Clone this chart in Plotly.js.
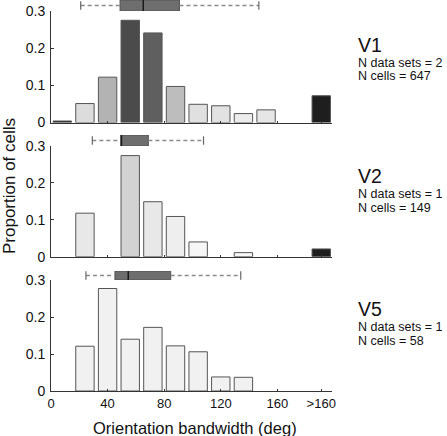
<!DOCTYPE html>
<html>
<head>
<meta charset="utf-8">
<script src="https://cdn.plot.ly/plotly-3.0.1.min.js"></script>
<style>html,body{margin:0;padding:0;background:#fff;}#chart{width:447px;height:436px;}</style>
</head>
<body>
<div id="chart"></div>
<script>
// Bin centres (deg); last bin is the ">160" overflow bin
var binCenters = [8, 24, 40, 56, 72, 88, 104, 120, 136, 152, 191];
var tickVals = [0, 40, 80, 120, 160, 191];
var tickText = ["0", "40", "80", "120", "160", ">160"];
var yTickVals = [0, 0.1, 0.2, 0.3];
var yTickText = ["0", "0.1", "0.2", "0.3"];

var v1 = [0.004, 0.051, 0.122, 0.275, 0.241, 0.097, 0.049, 0.045, 0.024, 0.034, 0.072];
var v2 = [null, 0.118, null, 0.274, 0.149, 0.109, 0.040, null, 0.011, null, 0.021];
var v5 = [null, 0.121, 0.277, 0.140, 0.172, 0.122, 0.106, 0.038, 0.037, null, null];

var v1Colors = ["#222222", "#dcdcdc", "#b3b3b3", "#4b4b4b", "#5f5f5f", "#bdbdbd", "#e0e0e0", "#e2e2e2", "#ececec", "#e6e6e6", "#1e1e1e"];
var v2Colors = ["#ffffff", "#e8e8e8", "#ffffff", "#d2d2d2", "#e8e8e8", "#eeeeee", "#f6f6f6", "#ffffff", "#f8f8f8", "#ffffff", "#1e1e1e"];
var v5Colors = ["#f1f1f1", "#f1f1f1", "#f1f1f1", "#f1f1f1", "#f1f1f1", "#f1f1f1", "#f1f1f1", "#f1f1f1", "#f1f1f1", "#f1f1f1", "#f1f1f1"];

// Box summaries (deg): lower whisker, q1, median, q3, upper whisker
var boxV1 = [21.0, 48.8, 65.2, 90.8, 146.9];
var boxV2 = [29.2, 49.3, 49.8, 68.8, 107.8];
var boxV5 = [24.7, 45.2, 54.6, 84.6, 134.1];

var areaNames = ["V1", "V2", "V5"];
var nDataSets = ["N data sets = 2", "N data sets = 1", "N data sets = 1"];
var nCells = ["N cells = 647", "N cells = 149", "N cells = 58"];

var FONT = "Liberation Sans, Arial, sans-serif";
var traces = [];

function barTrace(vals, colors, xa, ya) {
  return {
    type: "bar", x: binCenters, y: vals, width: 13,
    xaxis: xa, yaxis: ya,
    marker: {color: colors, line: {color: "#555555", width: 1}},
    hoverinfo: "skip", showlegend: false
  };
}
traces.push(barTrace(v1, v1Colors, "x", "y"));
traces.push(barTrace(v2, v2Colors, "x2", "y2"));
traces.push(barTrace(v5, v5Colors, "x3", "y3"));

function boxTraces(b, xa, ya) {
  var out = [];
  out.push({type: "scatter", mode: "lines", x: [b[0], b[1]], y: [0, 0], xaxis: xa, yaxis: ya,
    line: {color: "#8a8a8a", width: 1.3, dash: "4px,3px"}, hoverinfo: "skip", showlegend: false});
  out.push({type: "scatter", mode: "lines", x: [b[3], b[4]], y: [0, 0], xaxis: xa, yaxis: ya,
    line: {color: "#8a8a8a", width: 1.3, dash: "4px,3px"}, hoverinfo: "skip", showlegend: false});
  out.push({type: "scatter", mode: "markers", x: [b[0], b[4]], y: [0, 0], xaxis: xa, yaxis: ya,
    marker: {symbol: "line-ns", size: 6, line: {color: "#666666", width: 1.2}}, hoverinfo: "skip", showlegend: false});
  out.push({type: "bar", orientation: "h", y: [0], x: [b[3] - b[1]], base: [b[1]], width: 1,
    xaxis: xa, yaxis: ya, marker: {color: "#6e6e6e", line: {color: "#555555", width: 1}},
    hoverinfo: "skip", showlegend: false});
  out.push({type: "scatter", mode: "lines", x: [b[2], b[2]], y: [-0.5, 0.5], xaxis: xa, yaxis: ya,
    line: {color: "#1a1a1a", width: 1.5}, hoverinfo: "skip", showlegend: false});
  return out;
}
traces = traces.concat(boxTraces(boxV1, "x", "y4"));
traces = traces.concat(boxTraces(boxV2, "x2", "y5"));
traces = traces.concat(boxTraces(boxV5, "x3", "y6"));

var XR = [0, 198.6];
function xAxis(anchor, labels) {
  return {
    anchor: anchor, domain: [0, 1], range: XR, showgrid: false, zeroline: false,
    showline: true, linecolor: "#333333", linewidth: 1,
    ticks: "inside", ticklen: 2, tickcolor: "#333333",
    tickmode: "array", tickvals: tickVals, ticktext: tickText,
    showticklabels: labels, tickfont: {family: FONT, size: 13, color: "#111"},
    fixedrange: true
  };
}
function yAxis(anchor, dom) {
  return {
    anchor: anchor, domain: dom, range: [0, 0.3], showgrid: false, zeroline: false,
    showline: true, linecolor: "#333333", linewidth: 1,
    ticks: "inside", ticklen: 3, tickcolor: "#333333",
    tickmode: "array", tickvals: yTickVals, ticktext: yTickText,
    tickfont: {family: FONT, size: 14, color: "#111"}, ticklabelstandoff: 2,
    fixedrange: true
  };
}
function boxAxis(anchor, dom) {
  return {anchor: anchor, domain: dom, range: [-0.5, 0.5], visible: false, fixedrange: true};
}

var H = 391; // plot area height in px (t=0)
function dom(top, bottom) { return [(H - bottom) / H, (H - top) / H]; }
function py(p) { return (H - p) / H; }
function px(p) { return (p - 51) / 281; }

var annotations = [];
annotations.push({xref: "paper", yref: "paper", x: px(9), y: py(186), text: "Proportion of cells",
  textangle: -90, showarrow: false, font: {family: FONT, size: 17, color: "#111"}, xanchor: "center", yanchor: "middle"});
annotations.push({xref: "paper", yref: "paper", x: px(195), y: py(428), text: "Orientation bandwidth (deg)",
  showarrow: false, font: {family: FONT, size: 16.5, color: "#111"}, xanchor: "center", yanchor: "middle"});

var labelY = [[44.5, 62.5, 76], [176, 194, 207.5], [309, 327, 340.5]];
for (var i = 0; i < 3; i++) {
  annotations.push({xref: "paper", yref: "paper", x: px(356.5), y: py(labelY[i][0]), text: areaNames[i],
    showarrow: false, font: {family: FONT, size: 19.5, color: "#111"}, xanchor: "left", yanchor: "middle", borderpad: 0});
  annotations.push({xref: "paper", yref: "paper", x: px(357), y: py(labelY[i][1]), text: nDataSets[i],
    showarrow: false, font: {family: FONT, size: 12.5, color: "#111"}, xanchor: "left", yanchor: "middle", borderpad: 0});
  annotations.push({xref: "paper", yref: "paper", x: px(357), y: py(labelY[i][2]), text: nCells[i],
    showarrow: false, font: {family: FONT, size: 12.5, color: "#111"}, xanchor: "left", yanchor: "middle", borderpad: 0});
}

var layout = {
  width: 447, height: 436,
  margin: {l: 51, r: 115, t: 0, b: 45, pad: 0},
  paper_bgcolor: "#ffffff", plot_bgcolor: "rgba(0,0,0,0)",
  showlegend: false, bargap: 0,
  font: {family: FONT, color: "#111"},
  xaxis: xAxis("y", false),
  xaxis2: xAxis("y2", false),
  xaxis3: xAxis("y3", true),
  yaxis: yAxis("x", dom(11, 122.5)),
  yaxis2: yAxis("x2", dom(146, 256.7)),
  yaxis3: yAxis("x3", dom(280, 391)),
  yaxis4: boxAxis("x", dom(0, 11)),
  yaxis5: boxAxis("x2", dom(135, 146)),
  yaxis6: boxAxis("x3", dom(271, 280)),
  annotations: annotations
};

Plotly.newPlot("chart", traces, layout, {displayModeBar: false, staticPlot: true});
</script>
</body>
</html>
